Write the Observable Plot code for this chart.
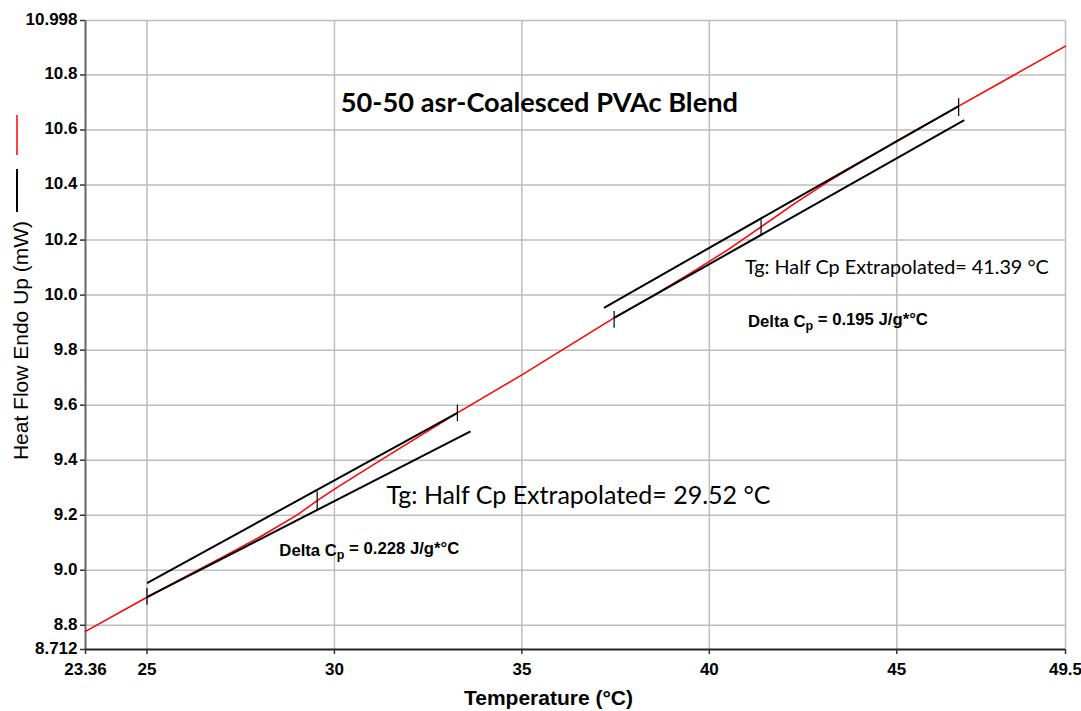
<!DOCTYPE html>
<html><head><meta charset="utf-8">
<script src="https://cdn.jsdelivr.net/npm/d3@7"></script>
<script src="https://cdn.jsdelivr.net/npm/@observablehq/plot@0.6"></script>
<style>
body{margin:0;background:#fff}
#chart{position:relative;width:1081px;height:711px}
</style>
</head><body><div id="chart"></div>
<script>
// axes
const yTicks = [8.712, 8.8, 9.0, 9.2, 9.4, 9.6, 9.8, 10.0, 10.2, 10.4, 10.6, 10.8, 10.998];
const yTickLabels = ["8.712","8.8","9.0","9.2","9.4","9.6","9.8","10.0","10.2","10.4","10.6","10.8","10.998"];
const xTicks = [23.36, 25, 30, 35, 40, 45, 49.5];
const xTickLabels = ["23.36","25","30","35","40","45","49.5"];
const xGrid = [25, 30, 35, 40, 45, 49.5];
const yGrid = [8.8, 9.0, 9.2, 9.4, 9.6, 9.8, 10.0, 10.2, 10.4, 10.6, 10.8, 10.998];
const xMin = 23.36, xMax = 49.5, yMin = 8.712, yMax = 10.998;

// DSC heat flow curve (red)
const curveT  = [23.36, 25, 26, 27, 28, 29, 29.54, 30, 31, 32, 33.28, 35, 37.46, 38.5, 39.5, 40.5, 41.38, 42.3, 43.2, 44, 45, 46.65, 48, 49.5];
const curveHF = [8.778, 8.902, 8.975, 9.047, 9.12, 9.2, 9.253, 9.295, 9.38, 9.465, 9.572, 9.71, 9.917, 9.998, 10.08, 10.165, 10.248, 10.335, 10.415, 10.48, 10.56, 10.687, 10.79, 10.905];

// extrapolated baselines (black)
const tanT1  = [25, 25, 37.19, 37.46];
const tanHF1 = [8.953, 8.902, 9.954, 9.917];
const tanT2  = [33.28, 33.63, 46.65, 46.8];
const tanHF2 = [9.572, 9.505, 10.687, 10.636];

// vertical marker ticks
const markT  = [25, 29.54, 33.28, 37.46, 41.38, 46.65];
const markLo = [8.875, 9.22, 9.542, 9.881, 10.221, 10.651];
const markHi = [8.936, 9.287, 9.602, 9.942, 10.275, 10.715];

// annotations
const titleText = ["50-50 asr-Coalesced PVAc Blend"];
const titleT = [30.17], titleHF = [10.698];
const tgText = ["Tg: Half Cp Extrapolated= 41.39 °C", "Tg: Half Cp Extrapolated= 29.52 °C"];
const tgT = [40.95, 31.39], tgHF = [10.098, 9.269], tgSize = [19.8, 25];
const dcpText = ["Delta C_p = 0.195 J/g*°C", "Delta C_p = 0.228 J/g*°C"];
const dcpT = [41.03, 28.53], dcpHF = [9.905, 9.073];

const curve = curveT.map((t, i) => ({t, hf: curveHF[i]}));
const tans = tanT1.map((t, i) => ({x1: t, y1: tanHF1[i], x2: tanT2[i], y2: tanHF2[i]}));
const marks = markT.map((t, i) => ({t, lo: markLo[i], hi: markHi[i]}));
const titles = titleText.map((s, i) => ({s, t: titleT[i], hf: titleHF[i]}));
const tgs = tgText.map((s, i) => ({s, t: tgT[i], hf: tgHF[i], size: tgSize[i]}));
const dcps = dcpText.map((s, i) => ({s, t: dcpT[i], hf: dcpHF[i]}));

const plot = Plot.plot({
  width: 1081, height: 711,
  marginLeft: 85, marginRight: 16, marginTop: 20, marginBottom: 62,
  style: {fontFamily: "'Liberation Sans', Arial, sans-serif", fontSize: "17px", fontWeight: "bold", background: "#fff", color: "#000"},
  x: {domain: [xMin, xMax], axis: null},
  y: {domain: [yMin, yMax], axis: null},
  marks: [
    Plot.ruleX(xGrid, {stroke: "#bdbdbd", strokeWidth: 1.5}),
    Plot.ruleY(yGrid, {stroke: "#bdbdbd", strokeWidth: 1.5}),
    Plot.ruleX([xMin], {stroke: "#666", strokeWidth: 2}),
    Plot.ruleY([yMin], {stroke: "#222", strokeWidth: 2}),
    // tick marks
    Plot.ruleY(yTicks, {x1: xMin, x2: xMin, insetLeft: -5, stroke: "#333", strokeWidth: 1.5}),
    Plot.ruleX(xTicks, {y1: yMin, y2: yMin, insetBottom: -5, stroke: "#333", strokeWidth: 1.5}),
    // tick labels
    Plot.text(yTicks, {y: d => d, frameAnchor: "left", textAnchor: "end", dx: -8, dy: -1,
      text: (d, i) => yTickLabels[i], fontSize: 17, fontWeight: "bold", fill: "#000"}),
    Plot.text(xTicks, {x: d => d, frameAnchor: "bottom", lineAnchor: "top", dy: 13,
      text: (d, i) => xTickLabels[i], fontSize: 17, fontWeight: "bold", fill: "#000"}),
    Plot.line(curve, {x: "t", y: "hf", stroke: "#ff0000", strokeWidth: 1.5}),
    Plot.link(tans, {x1: "x1", y1: "y1", x2: "x2", y2: "y2", stroke: "#000", strokeWidth: 2}),
    Plot.link(marks, {x1: "t", x2: "t", y1: "lo", y2: "hi", stroke: "#000", strokeWidth: 1.2}),
    Plot.text(titles, {x: "t", y: "hf", text: "s", textAnchor: "start", fontFamily: "Lato, 'Open Sans', sans-serif", fontWeight: "bold", fontSize: 27.2, fill: "#000"}),
    Plot.text(tgs, {x: "t", y: "hf", text: "s", textAnchor: "start", fontFamily: "Lato, 'Open Sans', sans-serif", fontWeight: "normal", fontSize: "size", fill: "#000"}),
    Plot.text(dcps, {x: "t", y: "hf", text: "s", textAnchor: "start", fontFamily: "'Liberation Sans', Arial, sans-serif", fontWeight: "bold", fontSize: 16.7, fill: "#000"}),
    Plot.text(["Heat Flow Endo Up (mW)"], {frameAnchor: "left", textAnchor: "middle", rotate: -90, dx: -64, dy: 5.5, fontSize: 21, fontWeight: "normal", fill: "#000"}),
    Plot.text(["Temperature (°C)"], {frameAnchor: "bottom", textAnchor: "middle", lineAnchor: "middle", dx: -27, dy: 49, fontSize: 21, fontWeight: "bold", fill: "#000"})
  ]
});

const svg = d3.select(plot);

// subscript p in "Delta Cp"
svg.selectAll("text").each(function() {
  const t = this.textContent;
  if (t.includes("_p")) {
    const [a, b] = t.split("_p");
    const sel = d3.select(this);
    sel.text(null);
    sel.append("tspan").text(a);
    sel.append("tspan").attr("font-size", "0.75em").attr("dy", "0.3em").text("p");
    sel.append("tspan").attr("dy", "-0.3em").text(b);
  }
});

// legend swatches beside the y-axis title
svg.append("line").attr("x1", 17).attr("x2", 17).attr("y1", 115).attr("y2", 155).attr("stroke", "#ff0000").attr("stroke-width", 1.5);
svg.append("line").attr("x1", 17).attr("x2", 17).attr("y1", 169).attr("y2", 212).attr("stroke", "#000").attr("stroke-width", 2);

document.getElementById("chart").appendChild(plot);
</script>
</body></html>
